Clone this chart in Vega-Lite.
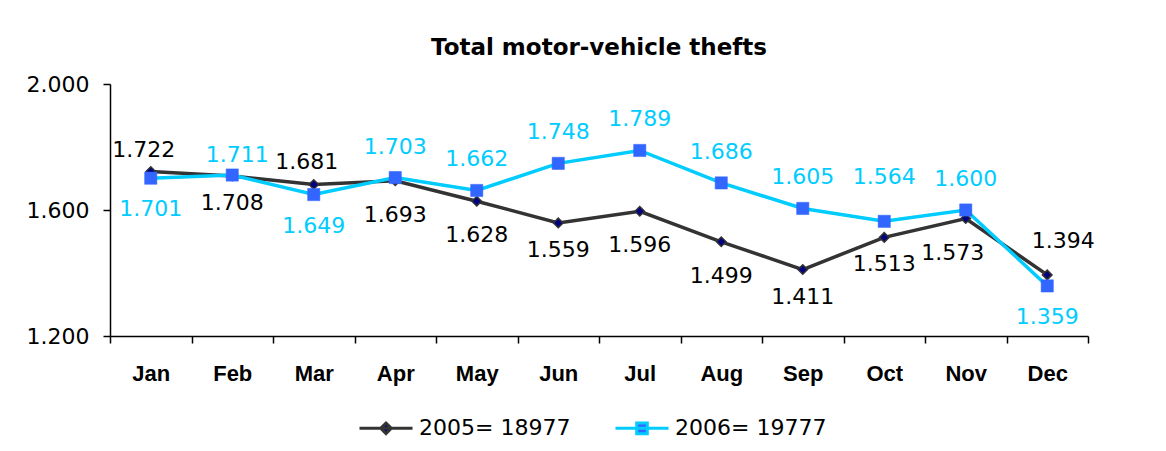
{
  "$schema": "https://vega.github.io/schema/vega-lite/v6.json",
  "width": 978,
  "height": 252,
  "padding": {"left": 26, "top": 37, "right": 10, "bottom": 5},
  "autosize": {"type": "pad"},
  "background": "white",
  "config": {
    "locale": {"number": {"decimal": ",", "thousands": ".", "grouping": [3], "currency": ["", ""]}},
    "view": {"stroke": null},
    "font": "DejaVu Sans"
  },
  "title": {"text": "Total motor-vehicle thefts", "font": "DejaVu Sans", "fontSize": 23, "fontWeight": "bold", "color": "black", "anchor": "middle", "offset": 13},
  "data": {"values": [
    {"month": "Jan", "series": "2005= 18977", "value": 1722},
    {"month": "Feb", "series": "2005= 18977", "value": 1708},
    {"month": "Mar", "series": "2005= 18977", "value": 1681},
    {"month": "Apr", "series": "2005= 18977", "value": 1693},
    {"month": "May", "series": "2005= 18977", "value": 1628},
    {"month": "Jun", "series": "2005= 18977", "value": 1559},
    {"month": "Jul", "series": "2005= 18977", "value": 1596},
    {"month": "Aug", "series": "2005= 18977", "value": 1499},
    {"month": "Sep", "series": "2005= 18977", "value": 1411},
    {"month": "Oct", "series": "2005= 18977", "value": 1513},
    {"month": "Nov", "series": "2005= 18977", "value": 1573},
    {"month": "Dec", "series": "2005= 18977", "value": 1394},
    {"month": "Jan", "series": "2006= 19777", "value": 1701},
    {"month": "Feb", "series": "2006= 19777", "value": 1711},
    {"month": "Mar", "series": "2006= 19777", "value": 1649},
    {"month": "Apr", "series": "2006= 19777", "value": 1703},
    {"month": "May", "series": "2006= 19777", "value": 1662},
    {"month": "Jun", "series": "2006= 19777", "value": 1748},
    {"month": "Jul", "series": "2006= 19777", "value": 1789},
    {"month": "Aug", "series": "2006= 19777", "value": 1686},
    {"month": "Sep", "series": "2006= 19777", "value": 1605},
    {"month": "Oct", "series": "2006= 19777", "value": 1564},
    {"month": "Nov", "series": "2006= 19777", "value": 1600},
    {"month": "Dec", "series": "2006= 19777", "value": 1359}
  ]},
  "encoding": {
    "x": {
      "field": "month", "type": "ordinal",
      "sort": ["Jan","Feb","Mar","Apr","May","Jun","Jul","Aug","Sep","Oct","Nov","Dec"],
      "scale": {"type": "band", "paddingInner": 0, "paddingOuter": 0},
      "bandPosition": 0.5,
      "axis": {"title": null, "labelAngle": 0, "labelFont": "Liberation Sans", "labelFontWeight": "bold", "labelFontSize": 22, "labelColor": "black", "labelPadding": 20, "tickBand": "extent", "tickSize": 7, "tickColor": "black", "tickWidth": 1.5, "domainColor": "black", "domainWidth": 1.5, "grid": false}
    },
    "y": {
      "field": "value", "type": "quantitative",
      "scale": {"domain": [1200, 2000], "nice": false},
      "axis": {"title": null, "values": [1200, 1600, 2000], "format": ",d", "labelFont": "DejaVu Sans", "labelFontSize": 22, "labelColor": "black", "labelPadding": 14, "tickSize": 7, "tickColor": "black", "tickWidth": 1.5, "domainColor": "black", "domainWidth": 1.5, "grid": false}
    }
  },
  "layer": [
    {
      "transform": [{"filter": {"field": "series", "equal": "2005= 18977"}}],
      "mark": {"type": "line", "strokeWidth": 3.5},
      "encoding": {
        "color": {
          "field": "series", "type": "nominal",
          "scale": {"domain": ["2005= 18977", "2006= 19777"], "range": ["#333333", "#00CCFF"]},
          "legend": {
            "title": null, "orient": "none", "legendX": 248, "legendY": 316, "direction": "horizontal", "padding": 0,
            "labelFont": "DejaVu Sans", "labelFontSize": 22, "labelColor": "black", "labelLimit": 400,
            "symbolType": "M-1,0H1", "symbolSize": 2809, "symbolStrokeWidth": 3,
            "columnPadding": 38, "labelOffset": 5,
            "encode": {"symbols": {"update": {
              "shape": {"signal": "datum.value === '2005= 18977' ? 'M-1,0H1M0,-0.2L0.2,0L0,0.2L-0.2,0Z' : 'M-1,0H1M-0.2,-0.2H0.2V0.2H-0.2Z'"},
              "fill": {"signal": "datum.value === '2005= 18977' ? '#000080' : '#3366FF'"},
              "opacity": {"value": 1}
            }}}
          }
        }
      }
    },
    {
      "transform": [{"filter": {"field": "series", "equal": "2005= 18977"}}],
      "mark": {"type": "point", "filled": true, "opacity": 1, "shape": "diamond", "size": 90, "fill": "#000080", "stroke": "#333333", "strokeWidth": 1.5}
    },
    {
      "transform": [{"filter": {"field": "series", "equal": "2006= 19777"}}],
      "mark": {"type": "line", "strokeWidth": 3.5},
      "encoding": {"color": {"field": "series", "type": "nominal"}}
    },
    {
      "transform": [{"filter": {"field": "series", "equal": "2006= 19777"}}],
      "mark": {"type": "point", "filled": true, "opacity": 1, "shape": "square", "size": 150, "fill": "#3366FF", "stroke": "#3366FF", "strokeWidth": 0.5}
    },
    {
      "transform": [{"filter": {"and": [{"field": "series", "equal": "2005= 18977"}, {"field": "month", "oneOf": ["Jan", "Mar"]}]}}],
      "mark": {"type": "text", "font": "DejaVu Sans", "fontSize": 22, "color": "black", "baseline": "middle", "align": "center", "dy": -22, "dx": -7},
      "encoding": {"text": {"field": "value", "type": "quantitative", "format": ",d"}}
    },
    {
      "transform": [{"filter": {"and": [{"field": "series", "equal": "2005= 18977"}, {"field": "month", "oneOf": ["Dec"]}]}}],
      "mark": {"type": "text", "font": "DejaVu Sans", "fontSize": 22, "color": "black", "baseline": "middle", "align": "center", "dy": -34, "dx": 16},
      "encoding": {"text": {"field": "value", "type": "quantitative", "format": ",d"}}
    },
    {
      "transform": [{"filter": {"and": [{"field": "series", "equal": "2005= 18977"}, {"field": "month", "oneOf": ["Feb", "Jun", "Sep", "Oct"]}]}}],
      "mark": {"type": "text", "font": "DejaVu Sans", "fontSize": 22, "color": "black", "baseline": "middle", "align": "center", "dy": 27},
      "encoding": {"text": {"field": "value", "type": "quantitative", "format": ",d"}}
    },
    {
      "transform": [{"filter": {"and": [{"field": "series", "equal": "2005= 18977"}, {"field": "month", "oneOf": ["Apr", "May", "Jul", "Aug"]}]}}],
      "mark": {"type": "text", "font": "DejaVu Sans", "fontSize": 22, "color": "black", "baseline": "middle", "align": "center", "dy": 34},
      "encoding": {"text": {"field": "value", "type": "quantitative", "format": ",d"}}
    },
    {
      "transform": [{"filter": {"and": [{"field": "series", "equal": "2005= 18977"}, {"field": "month", "oneOf": ["Nov"]}]}}],
      "mark": {"type": "text", "font": "DejaVu Sans", "fontSize": 22, "color": "black", "baseline": "middle", "align": "center", "dy": 34, "dx": -13},
      "encoding": {"text": {"field": "value", "type": "quantitative", "format": ",d"}}
    },
    {
      "transform": [{"filter": {"and": [{"field": "series", "equal": "2006= 19777"}, {"field": "month", "oneOf": ["Feb"]}]}}],
      "mark": {"type": "text", "font": "DejaVu Sans", "fontSize": 22, "color": "#00CCFF", "baseline": "middle", "align": "center", "dy": -20, "dx": 5},
      "encoding": {"text": {"field": "value", "type": "quantitative", "format": ",d"}}
    },
    {
      "transform": [{"filter": {"and": [{"field": "series", "equal": "2006= 19777"}, {"field": "month", "oneOf": ["Apr", "May", "Jun", "Jul", "Aug", "Sep", "Nov"]}]}}],
      "mark": {"type": "text", "font": "DejaVu Sans", "fontSize": 22, "color": "#00CCFF", "baseline": "middle", "align": "center", "dy": -31},
      "encoding": {"text": {"field": "value", "type": "quantitative", "format": ",d"}}
    },
    {
      "transform": [{"filter": {"and": [{"field": "series", "equal": "2006= 19777"}, {"field": "month", "oneOf": ["Oct"]}]}}],
      "mark": {"type": "text", "font": "DejaVu Sans", "fontSize": 22, "color": "#00CCFF", "baseline": "middle", "align": "center", "dy": -44},
      "encoding": {"text": {"field": "value", "type": "quantitative", "format": ",d"}}
    },
    {
      "transform": [{"filter": {"and": [{"field": "series", "equal": "2006= 19777"}, {"field": "month", "oneOf": ["Jan", "Mar", "Dec"]}]}}],
      "mark": {"type": "text", "font": "DejaVu Sans", "fontSize": 22, "color": "#00CCFF", "baseline": "middle", "align": "center", "dy": 31},
      "encoding": {"text": {"field": "value", "type": "quantitative", "format": ",d"}}
    }
  ]
}
